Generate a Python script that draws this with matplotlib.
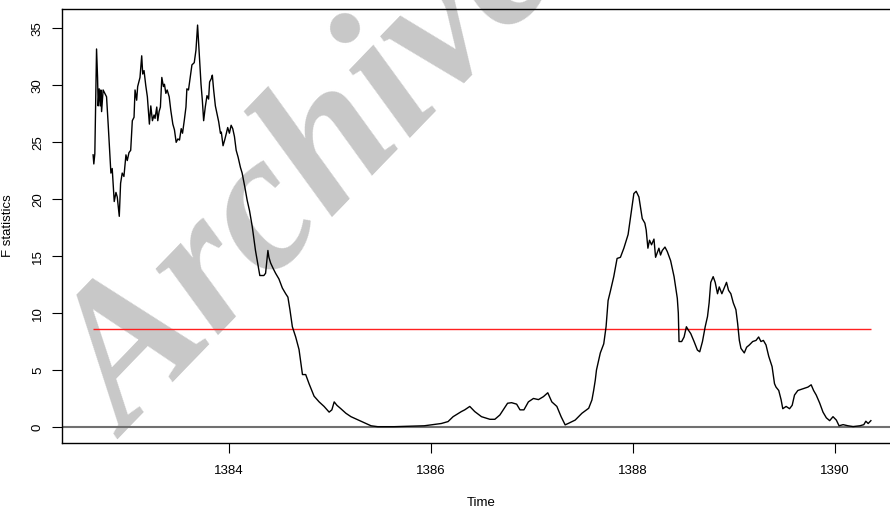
import matplotlib
matplotlib.use("Agg")
import matplotlib.pyplot as plt

plt.rcParams["font.family"] = ["Liberation Sans", "DejaVu Sans"]

# F statistics series (time in years, value)
time = [
    1382.656, 1382.663, 1382.673, 1382.690, 1382.700, 1382.706, 1382.716, 1382.726,
    1382.733, 1382.740, 1382.755, 1382.789, 1382.805, 1382.832, 1382.845, 1382.865,
    1382.882, 1382.895, 1382.915, 1382.928, 1382.944, 1382.961, 1382.981, 1382.994,
    1383.011, 1383.028, 1383.044, 1383.061, 1383.071, 1383.087, 1383.097, 1383.120,
    1383.137, 1383.147, 1383.160, 1383.177, 1383.193, 1383.213, 1383.227, 1383.243,
    1383.259, 1383.269, 1383.286, 1383.296, 1383.309, 1383.322, 1383.336, 1383.352,
    1383.362, 1383.376, 1383.389, 1383.409, 1383.425, 1383.445, 1383.461, 1383.478,
    1383.495, 1383.511, 1383.528, 1383.541, 1383.558, 1383.575, 1383.584, 1383.600,
    1383.617, 1383.634, 1383.657, 1383.674, 1383.690, 1383.710, 1383.724, 1383.737,
    1383.750, 1383.766, 1383.783, 1383.799, 1383.809, 1383.826, 1383.836, 1383.849,
    1383.866, 1383.883, 1383.899, 1383.916, 1383.925, 1383.942, 1383.958, 1383.975,
    1383.988, 1384.005, 1384.022, 1384.038, 1384.055, 1384.072, 1384.091, 1384.114,
    1384.131, 1384.157, 1384.181, 1384.204, 1384.231, 1384.263, 1384.281, 1384.306,
    1384.346, 1384.363, 1384.386, 1384.396, 1384.413, 1384.439, 1384.462, 1384.495,
    1384.529, 1384.562, 1384.584, 1384.604, 1384.628, 1384.661, 1384.694, 1384.728,
    1384.760, 1384.793, 1384.843, 1384.893, 1384.942, 1384.992, 1385.019, 1385.042,
    1385.069, 1385.108, 1385.158, 1385.208, 1385.257, 1385.307, 1385.357, 1385.407,
    1385.473, 1385.635, 1385.933, 1386.102, 1386.169, 1386.219, 1386.301, 1386.334,
    1386.384, 1386.433, 1386.500, 1386.583, 1386.632, 1386.682, 1386.758, 1386.798,
    1386.848, 1386.881, 1386.920, 1386.964, 1387.014, 1387.064, 1387.113, 1387.156,
    1387.196, 1387.246, 1387.288, 1387.328, 1387.362, 1387.427, 1387.494, 1387.561,
    1387.593, 1387.610, 1387.626, 1387.638, 1387.676, 1387.710, 1387.733, 1387.753,
    1387.775, 1387.809, 1387.842, 1387.875, 1387.909, 1387.951, 1387.984, 1388.008,
    1388.031, 1388.058, 1388.091, 1388.117, 1388.130, 1388.147, 1388.163, 1388.183,
    1388.207, 1388.223, 1388.256, 1388.272, 1388.289, 1388.316, 1388.339, 1388.372,
    1388.406, 1388.438, 1388.448, 1388.455, 1388.481, 1388.505, 1388.528, 1388.548,
    1388.571, 1388.604, 1388.637, 1388.660, 1388.687, 1388.714, 1388.737, 1388.753,
    1388.769, 1388.793, 1388.813, 1388.836, 1388.853, 1388.879, 1388.902, 1388.925,
    1388.945, 1388.968, 1388.992, 1389.018, 1389.035, 1389.052, 1389.068, 1389.101,
    1389.124, 1389.151, 1389.184, 1389.217, 1389.243, 1389.266, 1389.290, 1389.316,
    1389.343, 1389.376, 1389.400, 1389.415, 1389.442, 1389.465, 1389.482, 1389.515,
    1389.549, 1389.575, 1389.598, 1389.631, 1389.664, 1389.698, 1389.731, 1389.763,
    1389.787, 1389.813, 1389.847, 1389.880, 1389.913, 1389.946, 1389.979, 1390.012,
    1390.039, 1390.079, 1390.128, 1390.178, 1390.245, 1390.284, 1390.304, 1390.327,
    1390.354,
]
fstat = [
    23.9, 23.1, 24.0, 33.2, 30.7, 28.2, 29.7, 28.2,
    29.6, 27.7, 29.6, 29.0, 26.6, 22.3, 22.7, 19.8,
    20.6, 20.2, 18.5, 21.4, 22.3, 22.0, 23.9, 23.4,
    24.1, 24.3, 26.9, 27.2, 29.6, 28.7, 29.9, 30.7,
    32.6, 31.0, 31.3, 30.0, 29.0, 26.6, 28.2, 26.9,
    27.4, 27.1, 28.1, 26.9, 27.7, 28.1, 30.7, 29.9,
    30.1, 29.3, 29.6, 29.0, 27.8, 26.6, 26.1, 25.0,
    25.3, 25.2, 26.2, 25.8, 26.9, 28.1, 29.7, 29.6,
    30.7, 31.8, 32.0, 33.1, 35.3, 32.2, 30.1, 28.7,
    26.9, 28.1, 29.1, 28.8, 30.3, 30.6, 30.9, 29.6,
    28.2, 27.5, 26.8, 25.8, 25.9, 24.7, 25.2, 25.8,
    26.3, 25.8, 26.5, 26.2, 25.5, 24.3, 23.7, 22.8,
    22.3, 21.1, 19.9, 19.0, 17.6, 15.5, 14.6, 13.3,
    13.3, 13.5, 15.5, 14.9, 14.4, 13.9, 13.5, 13.0,
    12.2, 11.7, 11.4, 10.3, 8.8, 7.9, 6.8, 4.6,
    4.6, 3.8, 2.7, 2.2, 1.8, 1.3, 1.5, 2.2,
    1.9, 1.6, 1.2, 0.9, 0.7, 0.5, 0.3, 0.1,
    0.02, 0.02, 0.1, 0.3, 0.47, 0.9, 1.35, 1.5,
    1.8, 1.35, 0.9, 0.67, 0.67, 1.05, 2.08, 2.13,
    2.0, 1.5, 1.5, 2.2, 2.5, 2.4, 2.66, 3.0,
    2.2, 1.8, 0.9, 0.18, 0.32, 0.6, 1.2, 1.64,
    2.37, 3.2, 4.1, 5.0, 6.5, 7.3, 8.8, 11.1,
    11.9, 13.2, 14.8, 14.9, 15.7, 16.9, 19.0, 20.5,
    20.7, 20.2, 18.3, 17.9, 17.3, 15.7, 16.4, 16.0,
    16.5, 14.9, 15.7, 15.1, 15.5, 15.8, 15.4, 14.6,
    13.2, 11.3, 10.0, 7.5, 7.5, 7.9, 8.8, 8.5,
    8.2, 7.5, 6.75, 6.6, 7.5, 8.8, 9.7, 10.9,
    12.7, 13.2, 12.7, 11.7, 12.3, 11.7, 12.2, 12.7,
    12.0, 11.7, 10.9, 10.3, 9.1, 7.6, 6.9, 6.5,
    7.0, 7.2, 7.5, 7.6, 7.9, 7.5, 7.6, 7.2,
    6.2, 5.3, 3.8, 3.5, 3.2, 2.4, 1.6, 1.8,
    1.6, 1.9, 2.8, 3.2, 3.3, 3.4, 3.5, 3.7,
    3.2, 2.8, 2.1, 1.3, 0.8, 0.55, 0.9, 0.6,
    0.1, 0.2, 0.1, 0.03, 0.1, 0.2, 0.5, 0.3,
    0.55,
]
critical_value = 8.6
x_ticks = [1384, 1386, 1388, 1390]
y_ticks = [0, 5, 10, 15, 20, 25, 30, 35]

fig = plt.figure(figsize=(8.9, 5.08), dpi=100)
# plot region runs a bit past the right edge, like the cropped original
ax = fig.add_axes([62 / 890, 65 / 508, 840 / 890, 434 / 508])
ax.set_facecolor("none")

# watermark behind everything
ax.text(128 / 890, 1 - 440 / 508, "Archive", transform=fig.transFigure,
        family=["Liberation Serif", "DejaVu Serif"], weight="bold", style="italic",
        fontsize=142, color="#c8c8c8", rotation=46, rotation_mode="anchor",
        ha="left", va="baseline", zorder=0, clip_on=False)

ax.plot(time, fstat, color="black", lw=1.0, zorder=3)
ax.axhline(0, color="#707070", lw=1.5, zorder=2)
ax.hlines(critical_value, time[0], time[-1], color="#ff2020", lw=1.0, zorder=2)

ax.margins(x=0.04, y=0.04)
ax.set_xticks(x_ticks)
ax.set_yticks(y_ticks)
ax.tick_params(axis="x", direction="out", length=7, width=0.8, pad=9, labelsize=9.5)
ax.tick_params(axis="y", direction="out", length=7, width=0.8, pad=6, labelsize=9.5,
               labelrotation=90)
for lab in ax.get_yticklabels():
    lab.set_va("center")

for sp in ax.spines.values():
    sp.set_linewidth(1.0)

ax.set_xlabel("Time", fontsize=9.5)
ax.set_ylabel("F statistics", fontsize=9.5)
ax.xaxis.set_label_coords(419 / 840, -54 / 434)
ax.yaxis.set_label_coords(-48 / 840, 0.5)

fig.savefig("out.png", dpi=100)
